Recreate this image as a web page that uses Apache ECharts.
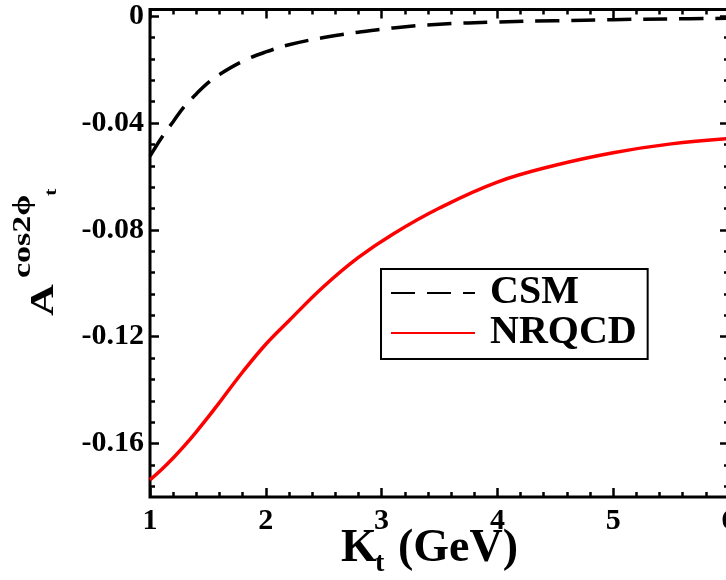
<!DOCTYPE html>
<html>
<head>
<meta charset="utf-8">
<script src="https://cdn.jsdelivr.net/npm/echarts@6/dist/echarts.min.js"></script>
<style>
  html, body { margin: 0; padding: 0; background: #fff; }
  #chart { width: 726px; height: 580px; }
</style>
</head>
<body>
<div id="chart"></div>
<script>
// Transverse momentum K_t (GeV)
const kt = [1.0, 1.1, 1.2, 1.3, 1.4, 1.5, 1.6, 1.8, 2.0, 2.2, 2.5, 2.8, 3.1, 3.5, 4.0, 4.5, 5.0, 5.5, 6.0];

// cos2phi_t asymmetry, colour-singlet model
const csm = [-0.0524, -0.0455, -0.0395, -0.0336, -0.0291, -0.0250, -0.0218, -0.0169, -0.0134, -0.0107,
             -0.0080, -0.0060, -0.0044, -0.0030, -0.0022, -0.0017, -0.0013, -0.0010, -0.0008];

// cos2phi_t asymmetry, NRQCD
const nrqcd = [-0.1736, -0.1697, -0.1654, -0.1607, -0.1556, -0.1502, -0.1446, -0.1332, -0.1228, -0.1140,
               -0.1012, -0.0903, -0.0815, -0.0718, -0.0621, -0.0558, -0.0511, -0.0478, -0.0458];

const yMajor = [0, -0.04, -0.08, -0.12, -0.16];
const yMinor = [-0.008, -0.016, -0.024, -0.032, -0.048, -0.056, -0.064, -0.072,
                -0.088, -0.096, -0.104, -0.112, -0.128, -0.136, -0.144, -0.152,
                -0.168, -0.176];

const yMin = -0.18, yMax = 0.0025;
const serif = '"Liberation Serif", "Times New Roman", serif';

const chart = echarts.init(document.getElementById('chart'), null, { renderer: 'canvas' });

function pair(arrX, arrY) { return arrX.map((x, i) => [x, arrY[i]]); }

const tickStyle = { color: '#000', width: 2.5 };

function yAxisOf(position, ticks, len, labels) {
  return {
    type: 'value', position: position, min: yMin, max: yMax,
    axisLine: { show: false },
    splitLine: { show: false },
    axisTick: { show: true, inside: true, length: len, lineStyle: tickStyle, customValues: ticks },
    axisLabel: labels ? {
      show: true, customValues: ticks, margin: 6,
      fontFamily: serif, fontWeight: 'bold', fontSize: 30, color: '#000',
      formatter: v => (v === 0 ? '0' : String(+v.toFixed(2)))
    } : { show: false }
  };
}

function xAxisOf(position, labels) {
  return {
    type: 'value', position: position, min: 1, max: 6, interval: 1,
    axisLine: { show: false, onZero: false },
    splitLine: { show: false },
    axisTick: { show: true, inside: true, length: 9, lineStyle: tickStyle },
    minorTick: { show: true, splitNumber: 5, length: 5, lineStyle: tickStyle },
    axisLabel: labels ? {
      show: true, margin: 9,
      fontFamily: serif, fontWeight: 'bold', fontSize: 30, color: '#000'
    } : { show: false }
  };
}

// text helper: (x, yBase) is the baseline-left point in the group's frame
function txt(s, x, yBase, size) {
  return { type: 'text', x: x, y: yBase - 0.86 * size,
           style: { text: s, fontFamily: serif, fontWeight: 'bold', fontSize: size, fill: '#000' } };
}

chart.setOption({
  animation: false,
  backgroundColor: '#fff',
  grid: {
    left: 150, top: 9.5, width: 579, bottom: 83,
    outerBoundsMode: 'none',
    show: true, borderColor: '#000', borderWidth: 3, backgroundColor: 'transparent'
  },
  xAxis: [xAxisOf('bottom', true), xAxisOf('top', false)],
  yAxis: [
    yAxisOf('left', yMajor, 9, true),
    yAxisOf('left', yMinor, 5, false),
    yAxisOf('right', yMajor, 9, false),
    yAxisOf('right', yMinor, 5, false)
  ],
  legend: {
    orient: 'vertical', left: 381, top: 269,
    padding: [4, 11, 6, 9], itemGap: 0,
    itemWidth: 84, itemHeight: 4,
    borderColor: '#000', borderWidth: 2, backgroundColor: '#fff',
    itemStyle: { color: 'transparent', borderWidth: 0 },
    textStyle: { fontFamily: serif, fontWeight: 'bold', fontSize: 40, color: '#000',
                 lineHeight: 38, padding: [0, 0, 0, 10] },
    data: ['CSM', 'NRQCD']
  },
  graphic: [
    {
      // rotated y-axis title, reads bottom to top; glyphs are squat across the axis
      type: 'group', x: 56, y: 316, rotation: Math.PI / 2, scaleY: 0.75,
      children: [
        txt('A', 0, 0, 44),
        txt('cos2\u03d5', 38, -31, 34),
        txt('t', 120, 2, 22)
      ]
    },
    {
      // x-axis title
      type: 'group', x: 0, y: 0,
      children: [
        txt('K', 341, 566, 46),
        txt('t', 375, 574, 28),
        txt('(GeV)', 398, 566, 46)
      ]
    }
  ],
  series: [
    {
      name: 'CSM', type: 'line', xAxisIndex: 0, yAxisIndex: 0,
      data: pair(kt, csm), smooth: 0.4, symbol: 'none',
      lineStyle: { color: '#000', width: 3.5, type: [24, 12], cap: 'butt' },
      itemStyle: { color: '#000' }
    },
    {
      name: 'NRQCD', type: 'line', xAxisIndex: 0, yAxisIndex: 0,
      data: pair(kt, nrqcd), smooth: 0.4, symbol: 'none',
      lineStyle: { color: '#ff0000', width: 3.5 },
      itemStyle: { color: '#ff0000' }
    }
  ]
});
</script>
</body>
</html>
